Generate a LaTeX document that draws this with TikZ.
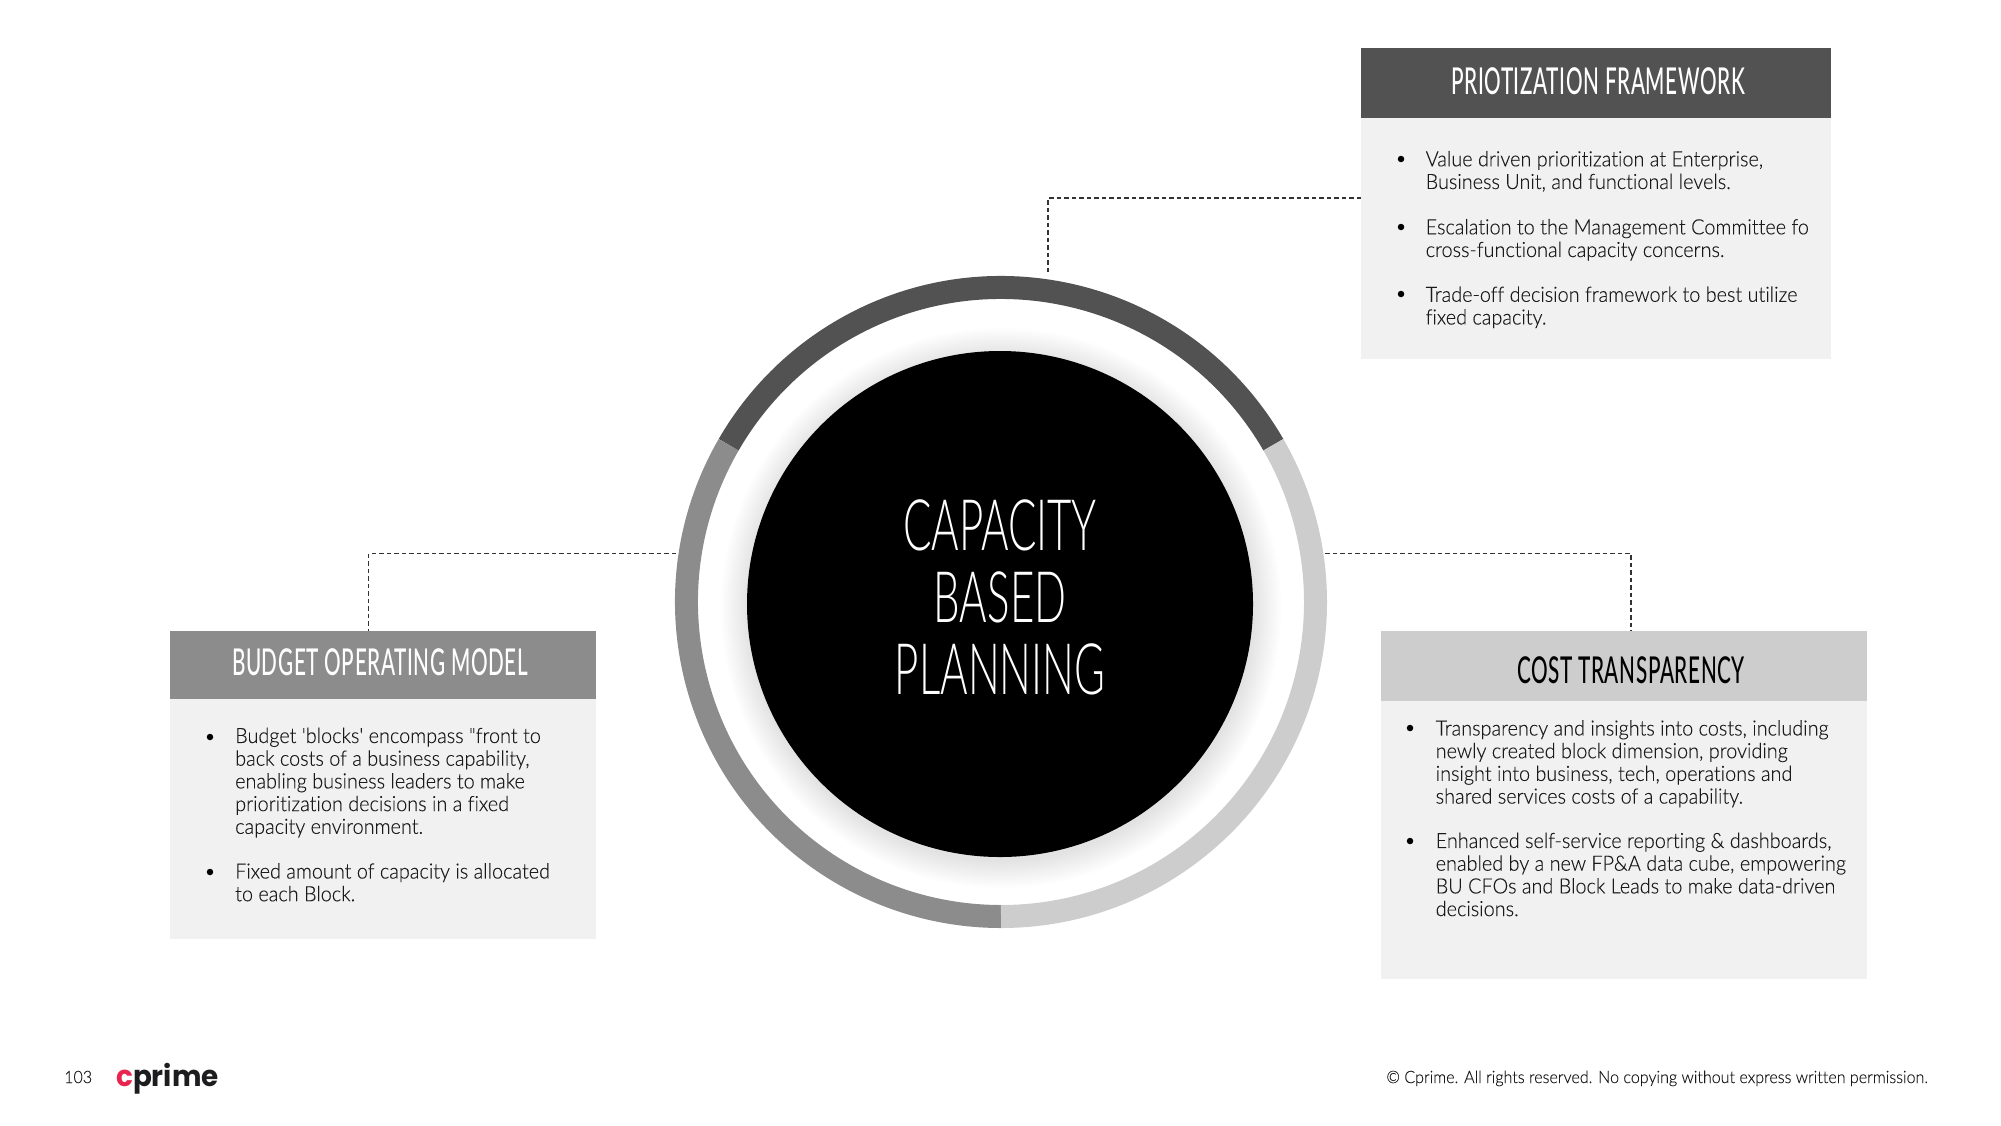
\documentclass[tikz,border=0pt]{standalone}
\usepackage{fontspec}
\setmainfont{Lato}
\newfontfamily\bodyf[FakeStretch=0.945,FakeBold=0.12,Ligatures={NoCommon},UprightFont={* Light}]{Lato}
\newfontfamily\headf[FakeStretch=0.56,LetterSpace=1.6,Ligatures={NoCommon},UprightFont={* Medium}]{Lato}
\newfontfamily\titlef[FakeStretch=0.592,UprightFont={* Light}]{Lato}
\newfontfamily\logof[FakeStretch=0.96]{Poppins}
\definecolor{darkhead}{HTML}{525252}
\definecolor{midhead}{HTML}{8C8C8C}
\definecolor{lighthead}{HTML}{CDCDCD}
\definecolor{panel}{HTML}{F1F1F1}
\definecolor{bodyink}{HTML}{1A1A1A}
\definecolor{logored}{HTML}{E8254F}
\definecolor{logoink}{HTML}{1D1D1F}
\tikzset{
  x=1pt,y=1pt,
  panelbox/.style={rectangle,fill=panel,draw=none,inner sep=0pt,anchor=north west},
  headbox/.style={rectangle,draw=none,inner sep=0pt,anchor=north west},
  headtext/.style={inner sep=0pt,font=\headf\fontsize{37}{37}\selectfont},
  para/.style={inner sep=0pt,anchor=north west,align=left,text=bodyink,font=\bodyf\fontsize{21}{22.7}\selectfont},
  bulletmark/.style={circle,fill=black,inner sep=0pt,minimum size=6.5pt},
  conn/.style={draw=black!80,line width=1.1pt,dash pattern=on 4.5pt off 3pt},
  seg/.style={line width=23pt,line cap=butt},
  foot/.style={inner sep=0pt,text=bodyink,font=\bodyf\fontsize{17}{20}\selectfont},
}
\begin{document}
\begin{tikzpicture}
\useasboundingbox (0,-1125) rectangle (2001,0);
\coordinate (ringc) at (1001,-602);
% shadow
\foreach \i in {1,...,14}{\fill[black,opacity=0.007] (1001,-608) circle ({252+2*\i});}
% ring
\draw[seg,darkhead] ([shift={(30:314.5)}]ringc) arc[start angle=30,end angle=150,radius=314.5];
\draw[seg,midhead] ([shift={(150:314.5)}]ringc) arc[start angle=150,end angle=270,radius=314.5];
\draw[seg,lighthead] ([shift={(270:314.5)}]ringc) arc[start angle=270,end angle=390,radius=314.5];
% core
\node[circle,fill=black,inner sep=0pt,minimum size=506pt] (core) at (1000,-604) {};
\node[text=white,inner sep=0pt,align=center,font=\titlef\fontsize{71}{72}\selectfont] (coretext) at (1000,-597) {CAPACITY\\BASED\\PLANNING};
% top panel
\node[panelbox,minimum width=470pt,minimum height=242pt] (topbody) at (1361,-117) {};
\node[headbox,fill=darkhead,minimum width=470pt,minimum height=70pt] (tophead) at (1361,-48) {};
\node[headtext,text=white] (toptitle) at (1598,-81) {PRIOTIZATION FRAMEWORK};
\node[bulletmark] (tb1) at (1401,-159) {};
\node[para] (tp1) at (1425.5,-150.8) {Value driven prioritization at Enterprise,\\Business Unit, and functional levels.};
\node[bulletmark] (tb2) at (1401,-227) {};
\node[para] (tp2) at (1425.5,-218.8) {Escalation to the Management Committee fo\\cross-functional capacity concerns.};
\node[bulletmark] (tb3) at (1401,-294) {};
\node[para] (tp3) at (1425.5,-286.3) {Trade-off decision framework to best utilize\\fixed capacity.};
% left panel
\node[panelbox,minimum width=426pt,minimum height=240pt] (leftbody) at (170,-699) {};
\node[headbox,fill=midhead,minimum width=426pt,minimum height=68pt] (lefthead) at (170,-631) {};
\node[headtext,text=white] (lefttitle) at (380,-662.5) {BUDGET OPERATING MODEL};
\node[bulletmark] (lb1) at (210,-737) {};
\node[para] (lp1) at (235,-727.5) {Budget 'blocks' encompass "front to\\back costs of a business capability,\\enabling business leaders to make\\prioritization decisions in a fixed\\capacity environment.};
\node[bulletmark] (lb2) at (210,-872) {};
\node[para] (lp2) at (235,-863) {Fixed amount of capacity is allocated\\to each Block.};
% right panel
\node[panelbox,minimum width=486pt,minimum height=278pt] (rightbody) at (1381,-701) {};
\node[headbox,fill=lighthead,minimum width=486pt,minimum height=70pt] (righthead) at (1381,-631) {};
\node[headtext,text=black] (righttitle) at (1631,-670) {COST TRANSPARENCY};
\node[bulletmark] (rb1) at (1410,-728) {};
\node[para] (rp1) at (1435.5,-720) {Transparency and insights into costs, including\\newly created block dimension, providing\\insight into business, tech, operations and\\shared services costs of a capability.};
\node[bulletmark] (rb2) at (1410,-841) {};
\node[para] (rp2) at (1435.5,-832.5) {Enhanced self-service reporting \& dashboards,\\enabled by a new FP\&A data cube, empowering\\BU CFOs and Block Leads to make data-driven\\decisions.};
% connectors
\coordinate (tA) at (1361,-198); \coordinate (tB) at (1048,-272);
\draw[conn] (tA) -| (tB);
\coordinate (lA) at (676,-553.5); \coordinate (lB) at (368.5,-631);
\draw[conn] (lA) -| (lB);
\coordinate (rA) at (1325,-553.5); \coordinate (rB) at (1631,-631);
\draw[conn] (rA) -| (rB);
% footer
\node[foot,anchor=base west] (pageno) at (64,-1083) {103};
\node[inner sep=0pt,anchor=base west,font=\logof\bfseries\fontsize{29}{29}\selectfont,text=logoink] (logo) at (116,-1086) {\textcolor{logored}{c}prime};
\node[foot,anchor=base east] (copy) at (1928,-1083) {© Cprime. All rights reserved. No copying without express written permission.};
\end{tikzpicture}
\end{document}
